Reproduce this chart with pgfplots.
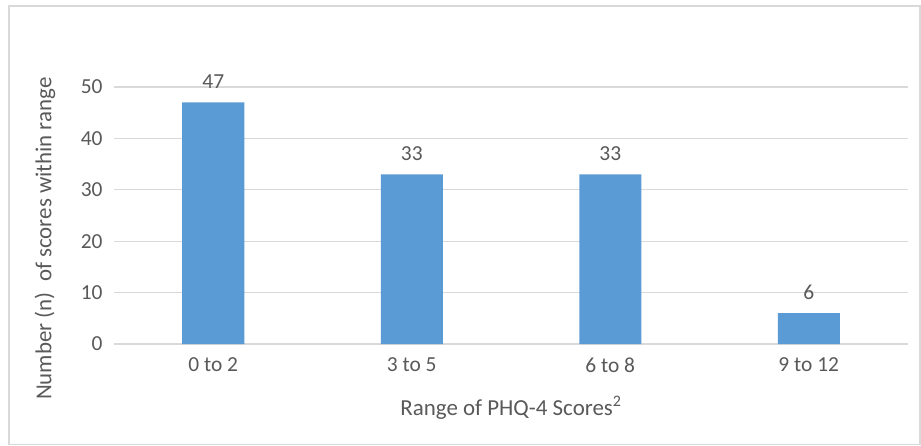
\documentclass[border=0pt]{standalone}
\usepackage{fontspec}
\setmainfont{Carlito}
\usepackage{pgfplots}
\pgfplotsset{compat=1.18}
\definecolor{barblue}{HTML}{5B9BD5}
\definecolor{txtgray}{HTML}{595959}
\definecolor{gridgray}{HTML}{D9D9D9}
\begin{document}
\begin{tikzpicture}
\useasboundingbox (-114bp,-102bp) rectangle (807bp,344bp);
\draw[gridgray, line width=1.2bp] (-105bp,-100.5bp) rectangle (806bp,338bp);
\begin{axis}[
  at={(0,0)}, anchor=south west,
  scale only axis, width=794bp, height=257bp,
  xmin=-0.5, xmax=3.5, ymin=0, ymax=50,
  xtick=data, xticklabels={0 to 2,3 to 5,6 to 8,9 to 12},
  ytick={0,10,...,50},
  axis x line*=bottom, axis y line*=left,
  x axis line style={gridgray, line width=1.2bp},
  y axis line style={draw=none},
  ymajorgrids, grid style={gridgray, line width=1.2bp},
  major tick length=0pt,
  tick label style={font=\fontsize{21.5}{25}\selectfont, text=txtgray},
  /pgf/number format/assume math mode=true,
  xticklabel style={yshift=-10bp},
  yticklabel style={xshift=-8bp},
  xlabel={Range of PHQ-4 Scores\textsuperscript{2}},
  ylabel={Number (n)\ \ of scores within range},
  label style={font=\fontsize{23}{27}\selectfont, text=txtgray},
  xlabel style={at={(axis description cs:0.5,-0.25)}, anchor=center},
  ylabel style={at={(axis description cs:-0.087,0.41)}, anchor=center},
  ybar, bar width=62bp,
  nodes near coords,
  nodes near coords style={font=\fontsize{21.5}{25}\selectfont, text=txtgray, anchor=south, yshift=10bp},
  clip=false,
]
\addplot[fill=barblue, draw=none] coordinates {(0,47) (1,33) (2,33) (3,6)};
\end{axis}
\end{tikzpicture}
\end{document}
